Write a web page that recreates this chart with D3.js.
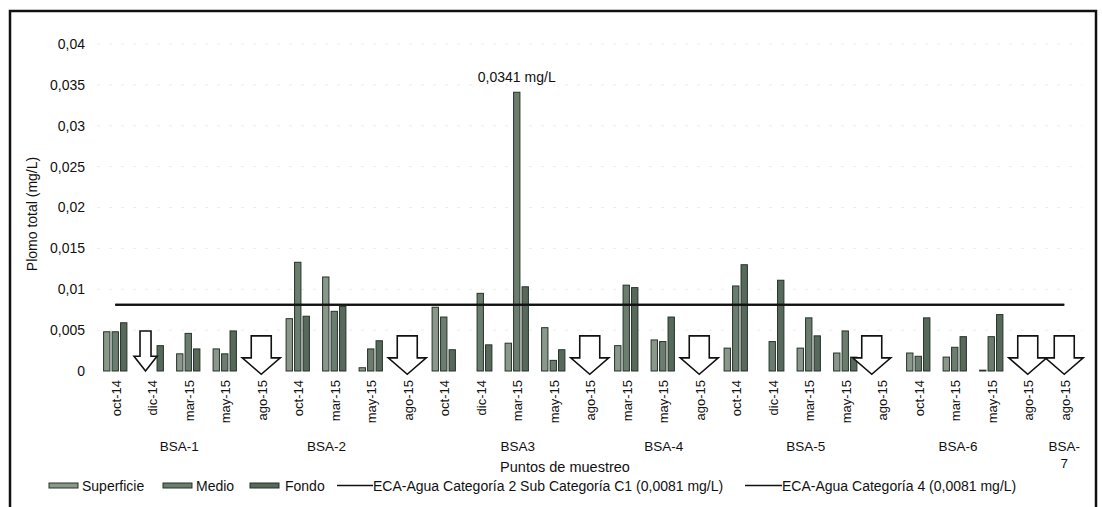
<!DOCTYPE html>
<html lang="es">
<head>
<meta charset="utf-8">
<script src="https://cdn.jsdelivr.net/npm/d3@7"></script>
<style>
  html, body { margin: 0; padding: 0; background: #fff; }
  svg { display: block; font-family: "Liberation Sans", Arial, sans-serif; }
</style>
</head>
<body>
<svg id="chart" width="1102" height="507"></svg>
<script>
// Fechas de muestreo (una por columna del eje X)
const meses = [
  "oct-14", "dic-14", "mar-15", "may-15", "ago-15",
  "oct-14", "mar-15", "may-15", "ago-15",
  "oct-14", "dic-14", "mar-15", "may-15", "ago-15",
  "mar-15", "may-15", "ago-15",
  "oct-14", "dic-14", "mar-15", "may-15", "ago-15",
  "oct-14", "mar-15", "may-15", "ago-15",
  "ago-15"
];

// Punto de muestreo al que pertenece cada columna
const puntos = [
  "BSA-1", "BSA-1", "BSA-1", "BSA-1", "BSA-1",
  "BSA-2", "BSA-2", "BSA-2", "BSA-2",
  "BSA3", "BSA3", "BSA3", "BSA3", "BSA3",
  "BSA-4", "BSA-4", "BSA-4",
  "BSA-5", "BSA-5", "BSA-5", "BSA-5", "BSA-5",
  "BSA-6", "BSA-6", "BSA-6", "BSA-6",
  "BSA-7"
];

// Plomo total (mg/L) por profundidad; null = sin dato
const superficie = [
  0.0048, null, 0.0021, 0.0027, null,
  0.0064, 0.0115, 0.0004, null,
  0.0078, null, 0.0034, 0.0053, null,
  0.0031, 0.0038, null,
  0.0028, null, 0.0028, 0.0022, null,
  0.0022, 0.0017, 0.0001, null,
  null
];
const medio = [
  0.0048, null, 0.0046, 0.0021, null,
  0.0133, 0.0073, 0.0027, null,
  0.0066, 0.0095, 0.0341, 0.0013, null,
  0.0105, 0.0036, null,
  0.0104, 0.0036, 0.0065, 0.0049, null,
  0.0018, 0.0029, 0.0042, null,
  null
];
const fondo = [
  0.0059, 0.0031, 0.0027, 0.0049, null,
  0.0067, 0.0079, 0.0037, null,
  0.0026, 0.0032, 0.0103, 0.0026, null,
  0.0102, 0.0066, null,
  0.0130, 0.0111, 0.0043, 0.0017, null,
  0.0065, 0.0042, 0.0069, null,
  null
];

// Columnas sin muestra (flecha): "chica" cubre superficie y medio, "grande" toda la columna
const sinMuestra = [
  null, "chica", null, null, "grande",
  null, null, null, "grande",
  null, null, null, null, "grande",
  null, null, "grande",
  null, null, null, null, "grande",
  null, null, null, "grande",
  "grande"
];

// Estándares de calidad ambiental (mg/L)
const ecaCat2C1 = 0.0081;
const ecaCat4 = 0.0081;

const yTicks = [0, 0.005, 0.01, 0.015, 0.02, 0.025, 0.03, 0.035, 0.04];
const seriesNombres = ["Superficie", "Medio", "Fondo"];

// ---------------------------------------------------------------------------
const svg = d3.select("#chart");
const locale = d3.formatLocale({ decimal: ",", thousands: ".", grouping: [3], currency: ["", ""] });
const fmt = locale.format(".4~f");

const colores = { Superficie: "#8a988c", Medio: "#6a7d6e", Fondo: "#56695a" };
const valores = { Superficie: superficie, Medio: medio, Fondo: fondo };

const x = d3.scaleBand().domain(d3.range(meses.length)).range([97, 1082.5]);
const xs = d3.scaleBand().domain(seriesNombres).range([-12.5, 12.5])
  .paddingInner(0.25).paddingOuter(0.1);
const y = d3.scaleLinear().domain([0, 0.04]).range([371, 44]);
const cx = i => x(i) + x.bandwidth() / 2;

// Marco exterior
svg.append("rect")
  .attr("x", 10).attr("y", 11).attr("width", 1086).attr("height", 520)
  .attr("fill", "none").attr("stroke", "#111").attr("stroke-width", 2.5);

// Líneas de división tenues
svg.append("g").selectAll("line")
  .data(yTicks.filter(d => d > 0))
  .join("line")
  .attr("x1", 97).attr("x2", 1082)
  .attr("y1", d => y(d)).attr("y2", d => y(d))
  .attr("stroke", "#ececec").attr("stroke-width", 1)
  .attr("stroke-dasharray", "3,9");

// Eje Y
const yAxis = svg.append("g")
  .attr("transform", "translate(88,0)")
  .call(d3.axisLeft(y).tickValues(yTicks).tickFormat(fmt).tickSize(0).tickPadding(3));
yAxis.select(".domain").remove();
yAxis.selectAll("text").attr("font-size", 14).attr("fill", "#111")
  .attr("font-family", "Liberation Sans, Arial, sans-serif");

svg.append("text")
  .attr("transform", "translate(37,214) rotate(-90)")
  .attr("text-anchor", "middle")
  .attr("font-size", 14).attr("fill", "#111")
  .text("Plomo total (mg/L)");

// Barras agrupadas
const filas = [];
meses.forEach((m, i) => {
  seriesNombres.forEach(s => {
    const v = valores[s][i];
    if (v != null) filas.push({ i, s, v });
  });
});
svg.append("g").selectAll("rect")
  .data(filas)
  .join("rect")
  .attr("x", d => cx(d.i) + xs(d.s))
  .attr("width", xs.bandwidth())
  .attr("y", d => y(d.v))
  .attr("height", d => y(0) - y(d.v))
  .attr("fill", d => colores[d.s])
  .attr("stroke", "#26332a").attr("stroke-width", 1);

// Flechas de "sin muestra"
function flecha(c, ancho, fuste, yTop, yCabeza, yPunta) {
  const a = ancho / 2, f = fuste / 2;
  return `M${c - f},${yTop}H${c + f}V${yCabeza}H${c + a}L${c},${yPunta}L${c - a},${yCabeza}H${c - f}Z`;
}
const ajusteFlecha = { 21: -10 };
svg.append("g").selectAll("path")
  .data(sinMuestra.map((t, i) => ({ t, i })).filter(d => d.t))
  .join("path")
  .attr("d", d => {
    if (d.t === "chica") {
      const c = cx(d.i) + (xs("Superficie") + xs("Medio") + xs.bandwidth()) / 2 - 2;
      return flecha(c, 23, 11, y(0.0049), y(0.0018), y(0));
    }
    const c = cx(d.i) + (ajusteFlecha[d.i] || 0);
    return flecha(c, 38, 20, y(0.0043), y(0.0016), y(-0.0004));
  })
  .attr("fill", "#fff").attr("stroke", "#111").attr("stroke-width", 1.6)
  .attr("stroke-linejoin", "miter");

// Límites ECA
[ecaCat2C1, ecaCat4].forEach(v => {
  svg.append("line")
    .attr("x1", cx(0)).attr("x2", cx(meses.length - 1))
    .attr("y1", y(v)).attr("y2", y(v))
    .attr("stroke", "#111").attr("stroke-width", 2);
});

// Valor máximo anotado
const iMax = d3.maxIndex(medio);
svg.append("text")
  .attr("x", cx(iMax) + xs("Medio") + xs.bandwidth() / 2)
  .attr("y", 82)
  .attr("text-anchor", "middle")
  .attr("font-size", 14).attr("fill", "#111")
  .text(fmt(medio[iMax]) + " mg/L");

// Etiquetas de fecha (verticales)
svg.append("g").selectAll("text")
  .data(meses)
  .join("text")
  .attr("transform", (d, i) => `translate(${cx(i) + 1},380) rotate(-90)`)
  .attr("dy", "0.35em")
  .attr("text-anchor", "end")
  .attr("font-size", 13).attr("fill", "#111")
  .text(d => d);

// Etiquetas de punto de muestreo
const grupos = Array.from(d3.group(meses.map((m, i) => ({ p: puntos[i], i })), d => d.p),
  ([p, arr]) => ({ p, c: (cx(arr[0].i) + cx(arr[arr.length - 1].i)) / 2 }));
const ajusteGrupo = { "BSA-1": -9, "BSA-2": -26, "BSA3": 1, "BSA-4": 1, "BSA-5": -3, "BSA-6": -15, "BSA-7": 0 };
const gt = svg.append("g").selectAll("text")
  .data(grupos)
  .join("text")
  .attr("x", d => d.c + ajusteGrupo[d.p])
  .attr("y", 451)
  .attr("text-anchor", "middle")
  .attr("font-size", 13.5).attr("fill", "#111");
gt.each(function (d) {
  const t = d3.select(this);
  if (d.p === "BSA-7") {
    t.append("tspan").attr("x", d.c).text("BSA-");
    t.append("tspan").attr("x", d.c).attr("dy", 17).text("7");
  } else {
    t.text(d.p);
  }
});

svg.append("text")
  .attr("x", 565).attr("y", 472)
  .attr("text-anchor", "middle")
  .attr("font-size", 14.5).attr("fill", "#111")
  .text("Puntos de muestreo");

// Leyenda
const leyY = 491;
const leyFont = 14;
const leyBarras = [
  { s: "Superficie", x: 49, tx: 82 },
  { s: "Medio", x: 163, tx: 196 },
  { s: "Fondo", x: 250, tx: 285 }
];
leyBarras.forEach(d => {
  svg.append("rect")
    .attr("x", d.x).attr("y", leyY - 8).attr("width", 29).attr("height", 5)
    .attr("fill", colores[d.s]).attr("stroke", "#26332a").attr("stroke-width", 1);
  svg.append("text").attr("x", d.tx).attr("y", leyY)
    .attr("font-size", leyFont).attr("fill", "#111").text(d.s);
});
const leyLineas = [
  { v: ecaCat2C1, x1: 337, x2: 373, t: "ECA-Agua Categoría 2 Sub Categoría C1" },
  { v: ecaCat4, x1: 745, x2: 782, t: "ECA-Agua Categoría 4" }
];
leyLineas.forEach(d => {
  svg.append("line")
    .attr("x1", d.x1).attr("x2", d.x2).attr("y1", leyY - 5.5).attr("y2", leyY - 5.5)
    .attr("stroke", "#111").attr("stroke-width", 1.6);
  svg.append("text").attr("x", d.x2).attr("y", leyY)
    .attr("font-size", leyFont).attr("fill", "#111")
    .text(`${d.t} (${fmt(d.v)} mg/L)`);
});
</script>
</body>
</html>
